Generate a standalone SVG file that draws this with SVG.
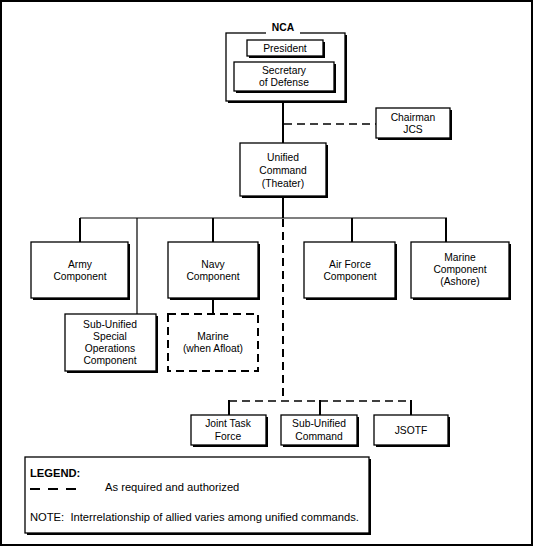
<svg xmlns="http://www.w3.org/2000/svg" width="534" height="547" viewBox="0 0 534 547">
<style>
.bg{fill:#fff}
.frame{fill:none;stroke:#000;stroke-width:2}
.box{fill:#fff;stroke:#000;stroke-width:1.3}
.sh{fill:#000}
.dbox{fill:#fff;stroke:#000;stroke-width:2;stroke-dasharray:8,5}
.t{font-family:"Liberation Sans",Arial,sans-serif;font-size:10.3px;fill:#000;text-anchor:middle}
.tl{font-family:"Liberation Sans",Arial,sans-serif;font-size:11.2px;fill:#000}
.b{font-weight:bold}
.ln{stroke:#000;stroke-width:2;fill:none}
.thin{stroke:#000;stroke-width:1.2;fill:none}
.dash{stroke:#000;stroke-width:2;fill:none;stroke-dasharray:8,5}
.dthin{stroke:#000;stroke-width:1.3;fill:none;stroke-dasharray:8,5}
</style>
<rect class="bg" x="0" y="0" width="534" height="547"/>
<rect class="frame" x="1" y="1" width="531" height="544"/>

<g id="connectors">
<line class="ln" x1="283" y1="101" x2="283" y2="143"/>
<line class="dthin" x1="284" y1="124" x2="376" y2="124"/>
<line class="ln" x1="283" y1="196" x2="283" y2="218"/>
<line class="thin" x1="80" y1="218" x2="447" y2="218"/>
<line class="ln" x1="80" y1="218" x2="80" y2="242"/>
<line class="thin" x1="137" y1="218" x2="137" y2="314"/>
<line class="ln" x1="213" y1="218" x2="213" y2="242"/>
<line class="ln" x1="352" y1="218" x2="352" y2="242"/>
<line class="ln" x1="446" y1="218" x2="446" y2="242"/>
<line class="ln" x1="213" y1="298" x2="213" y2="314"/>
<line class="dash" x1="283" y1="219" x2="283" y2="399"/>
<line class="dthin" x1="229" y1="401" x2="411" y2="401"/>
<line class="ln" x1="229" y1="400" x2="229" y2="415"/>
<line class="ln" x1="320" y1="400" x2="320" y2="415"/>
<line class="ln" x1="411" y1="400" x2="411" y2="415"/>
</g>

<g id="nca">
<rect class="sh" x="228" y="35" width="119" height="68"/>
<rect class="box" x="226" y="33" width="119" height="68"/>
<rect class="bg" x="266" y="26" width="34" height="9"/>
<text class="t b" x="283" y="31">NCA</text>
</g>
<g id="president">
<rect class="sh" x="249" y="42" width="76" height="16"/>
<rect class="box" x="247" y="40" width="76" height="16"/>
<text class="t" x="285" y="52">President</text>
</g>
<g id="secdef">
<rect class="sh" x="236" y="64" width="100" height="29"/>
<rect class="box" x="234" y="62" width="100" height="29"/>
<text class="t" x="284" y="74">Secretary</text>
<text class="t" x="284" y="86">of Defense</text>
</g>
<g id="chairman">
<rect class="sh" x="378" y="110" width="74" height="30"/>
<rect class="box" x="376" y="108" width="74" height="30"/>
<text class="t" x="413" y="121">Chairman</text>
<text class="t" x="413" y="133">JCS</text>
</g>
<g id="unified">
<rect class="sh" x="242" y="145" width="86" height="53"/>
<rect class="box" x="240" y="143" width="86" height="53"/>
<text class="t" x="283" y="161">Unified</text>
<text class="t" x="283" y="174">Command</text>
<text class="t" x="283" y="187">(Theater)</text>
</g>
<g id="army">
<rect class="sh" x="33" y="244" width="97" height="56"/>
<rect class="box" x="31" y="242" width="97" height="56"/>
<text class="t" x="80" y="268">Army</text>
<text class="t" x="80" y="280">Component</text>
</g>
<g id="navy">
<rect class="sh" x="170" y="244" width="90" height="56"/>
<rect class="box" x="168" y="242" width="90" height="56"/>
<text class="t" x="213" y="268">Navy</text>
<text class="t" x="213" y="280">Component</text>
</g>
<g id="airforce">
<rect class="sh" x="306" y="244" width="91" height="56"/>
<rect class="box" x="304" y="242" width="91" height="56"/>
<text class="t" x="350" y="268">Air Force</text>
<text class="t" x="350" y="280">Component</text>
</g>
<g id="marineashore">
<rect class="sh" x="413" y="244" width="98" height="56"/>
<rect class="box" x="411" y="242" width="98" height="56"/>
<text class="t" x="460" y="261">Marine</text>
<text class="t" x="460" y="273">Component</text>
<text class="t" x="460" y="285">(Ashore)</text>
</g>
<g id="subunifiedsoc">
<rect class="sh" x="67" y="316" width="91" height="57"/>
<rect class="box" x="65" y="314" width="91" height="57"/>
<text class="t" x="110" y="328">Sub-Unified</text>
<text class="t" x="110" y="340">Special</text>
<text class="t" x="110" y="352">Operations</text>
<text class="t" x="110" y="364">Component</text>
</g>
<g id="marineafloat">
<rect class="dbox" x="168" y="314" width="90" height="57"/>
<text class="t" x="213" y="340">Marine</text>
<text class="t" x="213" y="352">(when Afloat)</text>
</g>
<g id="jtf">
<rect class="sh" x="193" y="417" width="75" height="30"/>
<rect class="box" x="191" y="415" width="75" height="30"/>
<text class="t" x="228" y="427">Joint Task</text>
<text class="t" x="228" y="440">Force</text>
</g>
<g id="subunifiedcmd">
<rect class="sh" x="283" y="417" width="76" height="30"/>
<rect class="box" x="281" y="415" width="76" height="30"/>
<text class="t" x="319" y="427">Sub-Unified</text>
<text class="t" x="319" y="440">Command</text>
</g>
<g id="jsotf">
<rect class="sh" x="376" y="417" width="74" height="30"/>
<rect class="box" x="374" y="415" width="74" height="30"/>
<text class="t" x="411" y="434">JSOTF</text>
</g>
<g id="legend">
<rect class="sh" x="27" y="459" width="344" height="76"/>
<rect class="box" x="25" y="457" width="344" height="76"/>
<text class="tl b" x="30" y="477">LEGEND:</text>
<line x1="30" y1="489" x2="76" y2="489" stroke="#000" stroke-width="2" stroke-dasharray="10,8"/>
<text class="tl" x="105" y="491">As required and authorized</text>
<text class="tl" x="30" y="521" xml:space="preserve">NOTE:  Interrelationship of allied varies among unified commands.</text>
</g>
</svg>
